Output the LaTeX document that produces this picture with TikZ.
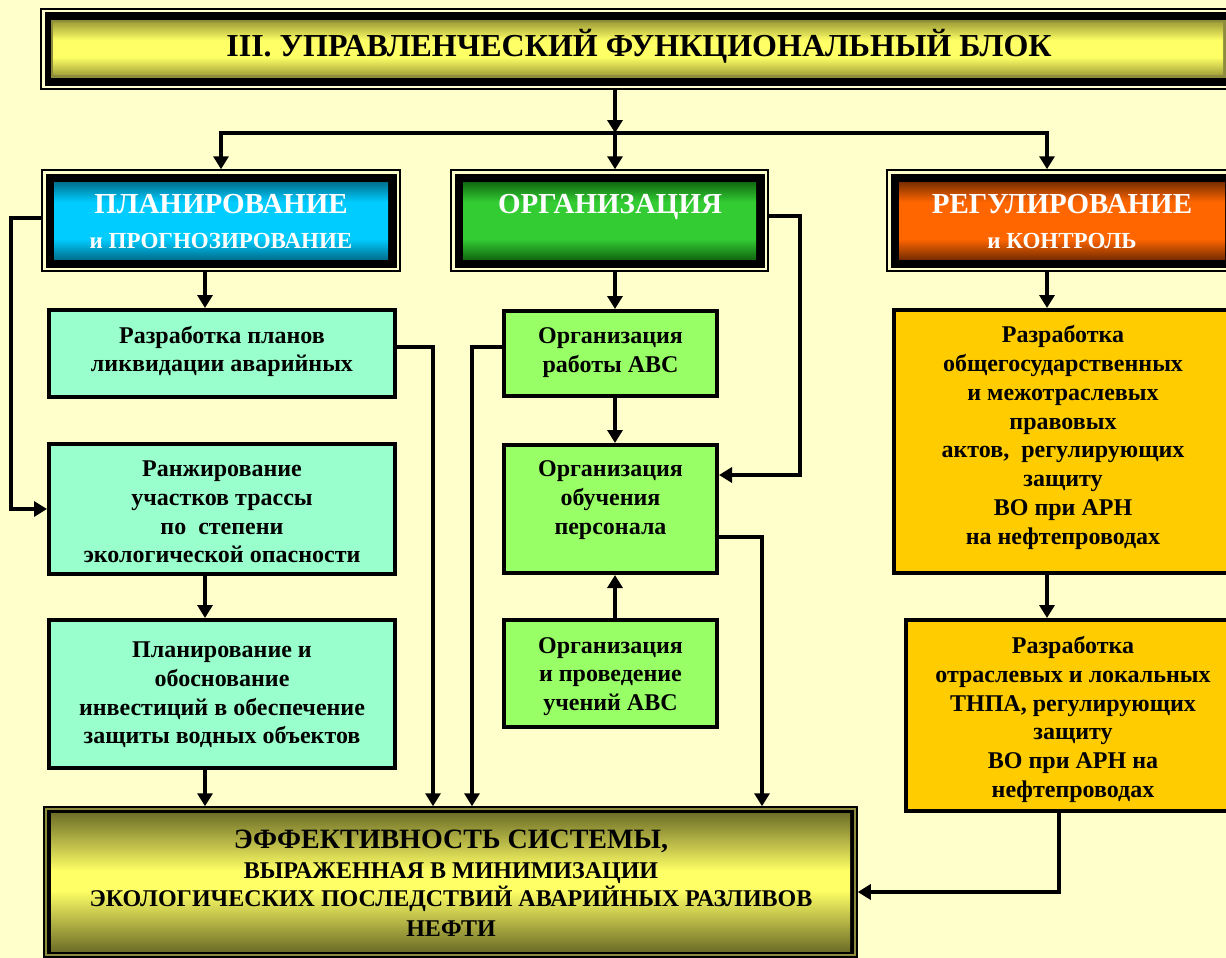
\documentclass[tikz,border=0pt]{standalone}
\usepackage{fontspec}
\setmainfont{Liberation Serif}
\usetikzlibrary{arrows.meta,fit,calc}

\definecolor{paper}{HTML}{FFFFCC}
\definecolor{mint}{HTML}{99FFCC}
\definecolor{lime}{HTML}{99FF66}
\definecolor{gold}{HTML}{FFCC00}
\definecolor{cyanE}{HTML}{00708F}
\definecolor{cyanM}{HTML}{00CCFF}
\definecolor{greenE}{HTML}{116A11}
\definecolor{greenM}{HTML}{33CC33}
\definecolor{orangeE}{HTML}{7A2E00}
\definecolor{orangeM}{HTML}{FF6600}
\definecolor{titleE}{HTML}{A3A33A}
\definecolor{titleM}{HTML}{FFFF66}
\definecolor{effE}{HTML}{6E6E28}
\definecolor{effM}{HTML}{FFFF66}
\definecolor{olivegap}{HTML}{8C8C3C}

\pgfdeclareverticalshading{cyanshade}{100bp}{color(0bp)=(cyanE); color(25bp)=(cyanE); color(38bp)=(cyanM); color(62bp)=(cyanM); color(75bp)=(cyanE); color(100bp)=(cyanE)}
\pgfdeclareverticalshading{greenshade}{100bp}{color(0bp)=(greenE); color(25bp)=(greenE); color(38bp)=(greenM); color(62bp)=(greenM); color(75bp)=(greenE); color(100bp)=(greenE)}
\pgfdeclareverticalshading{orangeshade}{100bp}{color(0bp)=(orangeE); color(25bp)=(orangeE); color(38bp)=(orangeM); color(62bp)=(orangeM); color(75bp)=(orangeE); color(100bp)=(orangeE)}
\pgfdeclareverticalshading{titleshade}{100bp}{color(0bp)=(titleE); color(25bp)=(titleE); color(42bp)=(titleM); color(58bp)=(titleM); color(75bp)=(titleE); color(100bp)=(titleE)}
\pgfdeclareverticalshading{effshade}{100bp}{color(0bp)=(effE); color(25bp)=(effE); color(47bp)=(effM); color(54bp)=(effM); color(75bp)=(effE); color(100bp)=(effE)}

\tikzset{
  arr/.style={line width=4pt, -{Triangle[length=13pt,width=15pt]}},
  hdrouter/.style={draw=black, line width=1.5pt, inner sep=0pt},
  hdrbig/.style={text=white, inner sep=0pt, font=\bfseries\fontsize{29}{34}\selectfont},
  hdrsmall/.style={text=white, inner sep=0pt, font=\bfseries\fontsize{23}{28}\selectfont},
  minibox/.style={draw=black, line width=4pt, inner sep=0pt},
  boxA/.style={minibox, fill=mint},
  boxB/.style={minibox, fill=lime},
  boxC/.style={minibox, fill=gold},
  boxtext/.style={inner sep=0pt, align=center,
    font=\bfseries\fontsize{24}{28.8}\selectfont},
  titletext/.style={inner sep=0pt, font=\bfseries\fontsize{32}{38}\selectfont},
  effbig/.style={inner sep=0pt, font=\bfseries\fontsize{28}{33}\selectfont},
  effsmall/.style={inner sep=0pt, font=\bfseries\fontsize{24}{29}\selectfont},
}

% header block: thin outer line, thick black band, shaded panel
\newcommand\hdrframe[6]{%
  \node[hdrouter, fit={(#2,#3) (#4,#5)}] (#1) {};
  \fill[black] ({#2+3.5},{#3+3.5}) rectangle ({#4-3.5},{#5-3.5});
  \shade[shading=#6] ({#2+12},{#3+12}) rectangle ({#4-12},{#5-12});
}

\begin{document}
\begin{tikzpicture}[x=1pt,y=-1pt]
\fill[paper] (0,0) rectangle (1226,958);
\useasboundingbox (0,0) rectangle (1226,958);

% title block
\node[hdrouter, fit={(41,9) (1237,89)}] (title) {};
\fill[black] (44.5,12.5) rectangle (1233.5,85.5);
\fill[olivegap] (51,20) rectangle (1227,78);
\shade[shading=titleshade] (53.5,22.5) rectangle (1223,75);
\node[titletext, anchor=base] (title-text) at (639,57) {III. УПРАВЛЕНЧЕСКИЙ ФУНКЦИОНАЛЬНЫЙ БЛОК};

% function headers
\hdrframe{plan}{42}{170}{400}{271}{cyanshade}
\hdrframe{org}{451}{170}{768}{271}{greenshade}
\hdrframe{reg}{887}{170}{1237}{271}{orangeshade}
\node[hdrbig, anchor=base] (plan-t1) at (221,213) {ПЛАНИРОВАНИЕ};
\node[hdrsmall, anchor=base] (plan-t2) at (221,248) {и ПРОГНОЗИРОВАНИЕ};
\node[hdrbig, anchor=base] (org-t1) at (610,213) {ОРГАНИЗАЦИЯ};
\node[hdrbig, anchor=base] (reg-t1) at (1062,213) {РЕГУЛИРОВАНИЕ};
\node[hdrsmall, anchor=base] (reg-t2) at (1062,248) {и КОНТРОЛЬ};

% planning column
\node[boxA, fit={(49,310) (395,397)}] (a1) {};
\node[boxA, fit={(49,444) (395,574)}] (a2) {};
\node[boxA, fit={(49,620) (395,768)}] (a3) {};
\node[boxtext] (a1-t) at ([yshift=2pt]a1.center) {Разработка планов\\ликвидации аварийных};
\node[boxtext] (a2-t) at ([yshift=-3pt]a2.center) {Ранжирование\\участков трассы\\по\ \ степени\\экологической опасности};
\node[boxtext] (a3-t) at ([yshift=-1pt]a3.center) {Планирование и\\обоснование\\инвестиций в обеспечение\\защиты водных объектов};

% organisation column
\node[boxB, fit={(504,311) (717,396)}] (b1) {};
\node[boxB, fit={(504,445) (717,573)}] (b2) {};
\node[boxB, fit={(504,620) (717,727)}] (b3) {};
\node[boxtext] (b1-t) at ([yshift=1pt]b1.center) {Организация\\работы АВС};
\node[boxtext] (b2-t) at ([yshift=9pt]b2.center) {Организация\\обучения\\персонала};
\node[boxtext] (b3-t) at ([yshift=-3pt]b3.center) {Организация\\и проведение\\учений АВС};

% regulation column
\node[boxC, fit={(894,310) (1232,573)}] (c1) {};
\node[boxC, fit={(906,620) (1240,811)}] (c2) {};
\node[boxtext] (c1-t) at ([yshift=4pt]c1.center) {Разработка\\общегосударственных\\и межотраслевых\\правовых\\актов,\ \ регулирующих\\защиту\\ВО при АРН\\на нефтепроводах};
\node[boxtext] (c2-t) at ([yshift=-4pt]c2.center) {Разработка\\отраслевых и локальных\\ТНПА, регулирующих\\защиту\\ВО при АРН на\\нефтепроводах};

% result block
\node[hdrouter, fill=olivegap, fit={(44,807) (857,957)}] (eff) {};
\fill[black] (47,810) rectangle (854,954);
\shade[shading=effshade] (51,813) rectangle (850,951);
\node[effbig, anchor=base] (eff-t1) at (451,848) {ЭФФЕКТИВНОСТЬ СИСТЕМЫ,};
\node[effsmall, anchor=base] (eff-t2) at (451,878) {ВЫРАЖЕННАЯ В МИНИМИЗАЦИИ};
\node[effsmall, anchor=base] (eff-t3) at (451,906) {ЭКОЛОГИЧЕСКИХ ПОСЛЕДСТВИЙ АВАРИЙНЫХ РАЗЛИВОВ};
\node[effsmall, anchor=base] (eff-t4) at (451,936) {НЕФТИ};

% routing columns
\coordinate (jn) at (615,133);
\coordinate (colA) at (205,0);
\coordinate (colB) at (615,0);
\coordinate (colC) at (1047,0);
\coordinate (railL) at (11,0);
\coordinate (railA) at (433,0);
\coordinate (railB1) at (472,0);
\coordinate (railB2) at (762,0);
\coordinate (railO) at (800,0);
\coordinate (railC) at (1059,0);
\coordinate (b2in) at ([yshift=34pt]b2.east);

% distribution from the title
\draw[arr] (jn |- title.south) -- (jn);
\draw[arr] (jn) -- (jn |- org.north);
\draw[arr] (jn) -- (plan.north |- jn) -- (plan.north);
\draw[arr] (jn) -| (colC |- reg.north);

% planning links
\draw[arr] (colA |- plan.south) -- (colA |- a1.north);
\draw[arr] ([yshift=2.5pt]plan.west) -| (railL |- a2.west) -- (a2.west);
\draw[arr] (colA |- a2.south) -- (colA |- a3.north);
\draw[arr] (colA |- a3.south) -- (colA |- eff.north);
\draw[arr] ([yshift=6.5pt]a1.east) -| (railA |- eff.north);

% organisation links
\draw[arr] (colB |- org.south) -- (colB |- b1.north);
\draw[arr] (colB |- b1.south) -- (colB |- b2.north);
\draw[arr] (colB |- b3.north) -- (colB |- b2.south);
\draw[arr] ([yshift=5pt]org.east) -| (railO |- b2in) -- (b2in);
\draw[arr] ([yshift=6.5pt]b1.west) -| (railB1 |- eff.north);
\draw[arr] ([yshift=-28pt]b2.east) -| (railB2 |- eff.north);

% regulation links
\draw[arr] (colC |- reg.south) -- (colC |- c1.north);
\draw[arr] (colC |- c1.south) -- (colC |- c2.north);
\draw[arr] (railC |- c2.south) |- ([yshift=-10pt]eff.east);
\end{tikzpicture}
\end{document}
